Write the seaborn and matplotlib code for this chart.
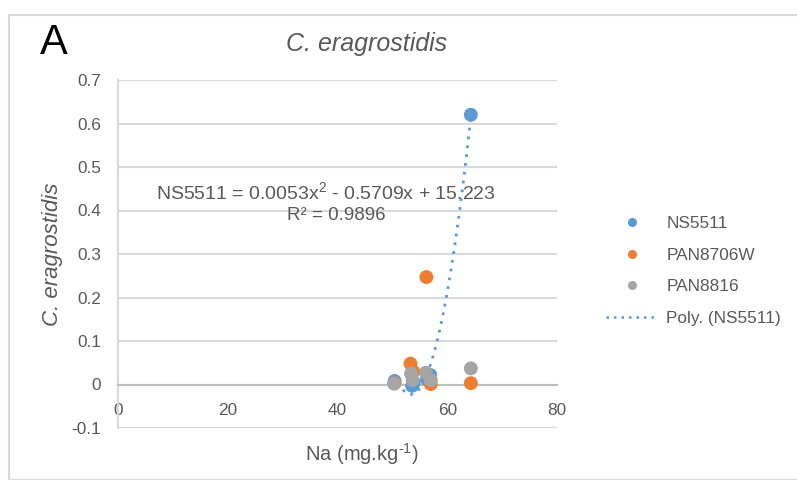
import numpy as np
import pandas as pd
import matplotlib
matplotlib.use("Agg")
import matplotlib.pyplot as plt
import seaborn as sns
from matplotlib.lines import Line2D
from matplotlib.patches import Rectangle

# ---- data ----
ns_x = [50.4, 53.6, 53.9, 56.3, 56.9, 64.3]
ns_y = [0.008, -0.003, 0.004, 0.012, 0.022, 0.620]
pan06_x = [50.4, 53.3, 53.8, 56.2, 57.0, 64.3]
pan06_y = [0.003, 0.048, 0.030, 0.247, 0.001, 0.003]
pan16_x = [50.3, 53.4, 53.7, 56.1, 57.0, 64.3]
pan16_y = [0.002, 0.025, 0.010, 0.027, 0.010, 0.037]
series_names = ["NS5511", "PAN8706W", "PAN8816"]
colors = ["#5B9BD5", "#ED7D31", "#A5A5A5"]
x_ticks = [0, 20, 40, 60, 80]
y_ticks = [-0.1, 0, 0.1, 0.2, 0.3, 0.4, 0.5, 0.6, 0.7]
y_tick_labels = ["-0.1", "0", "0.1", "0.2", "0.3", "0.4", "0.5", "0.6", "0.7"]

df = pd.DataFrame({
    "Na": ns_x + pan06_x + pan16_x,
    "val": ns_y + pan06_y + pan16_y,
    "series": [series_names[0]] * len(ns_x) + [series_names[1]] * len(pan06_x)
              + [series_names[2]] * len(pan16_x),
})

sns.set_theme(style="white")
plt.rcParams["font.family"] = ["Liberation Sans", "DejaVu Sans"]
plt.rcParams["mathtext.fontset"] = "custom"
plt.rcParams["mathtext.rm"] = "Liberation Sans"
plt.rcParams["mathtext.it"] = "Liberation Sans:italic"

txt = "#595959"
grid_c = "#D9D9D9"

fig = plt.figure(figsize=(7.97, 4.8), dpi=100)
fig.patches.append(Rectangle((9 / 797, 0), 1, 1 - 15 / 480, transform=fig.transFigure,
                             fill=False, edgecolor="#D9D9D9", linewidth=1.5))
ax = fig.add_axes([118 / 797, 1 - 428 / 480, (557 - 118) / 797, (428 - 80) / 480])

# trendline (quadratic fit of NS5511)
coef = np.polyfit(ns_x, ns_y, 2)
xs = np.linspace(min(ns_x), max(ns_x), 200)
ax.plot(xs, np.polyval(coef, xs), linestyle=(0, (1, 2.2)), color="#5B9BD5",
        linewidth=2, zorder=3)

sns.scatterplot(data=df, x="Na", y="val", hue="series", palette=colors,
                hue_order=series_names, s=100, edgecolor="none", legend=False,
                ax=ax, zorder=4)

ax.set_xlim(0, 80)
ax.set_ylim(-0.1, 0.7)
ax.set_xticks(x_ticks)
ax.set_yticks(y_ticks)
ax.set_xticklabels([str(t) for t in x_ticks])
ax.set_yticklabels(y_tick_labels)
ax.yaxis.grid(True, color=grid_c, linewidth=1.5)
ax.xaxis.grid(False)
for s in ["top", "right"]:
    ax.spines[s].set_visible(False)
ax.spines["left"].set_color(grid_c)
ax.spines["left"].set_linewidth(1.5)
ax.spines["bottom"].set_position(("data", 0))
ax.spines["bottom"].set_color("#BFBFBF")
ax.spines["bottom"].set_linewidth(1.5)
ax.tick_params(axis="both", length=0, labelsize=12.4, labelcolor=txt)
ax.tick_params(axis="y", pad=12)
ax.tick_params(axis="x", pad=13)
ax.set_xlabel("Na (mg.kg$^{\u2010 1}$)", fontsize=14.5, color=txt, labelpad=17, x=0.556)
ax.set_ylabel("C. eragrostidis", fontsize=16, color=txt, style="italic", labelpad=6)
ax.set_title("C. eragrostidis", fontsize=18, color=txt, style="italic", pad=21, x=0.567)

ax.text(37.8, 0.442, "NS5511 = 0.0053x$^{2}$ - 0.5709x + 15.223", ha="center", va="center",
        fontsize=14, color=txt)
ax.text(39.8, 0.389, "R² = 0.9896", ha="center", va="center", fontsize=13.5, color=txt)

fig.text(40 / 797, 1 - 43 / 480, "A", fontsize=30, color="black", ha="left", va="center")

handles = [Line2D([], [], marker="o", linestyle="none", markersize=6.5,
                  markerfacecolor=c, markeredgecolor="none") for c in colors]
handles.append(Line2D([], [], linestyle=(0, (1, 2)), color="#5B9BD5", linewidth=1.8))
labels = series_names + ["Poly. (NS5511)"]
leg = fig.legend(handles, labels, loc="center left", bbox_to_anchor=(606 / 797, 1 - 271 / 480),
                 frameon=False, fontsize=12.4, labelspacing=0.95, handlelength=3.0,
                 handletextpad=0.5, borderpad=0, borderaxespad=0)
for t in leg.get_texts():
    t.set_color(txt)

fig.savefig("out.png", dpi=100)
